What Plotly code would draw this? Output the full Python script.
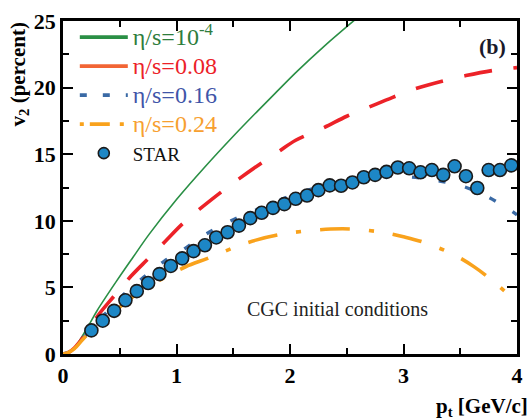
import plotly.graph_objects as go

# ---- data -------------------------------------------------------------
pt_ideal = [0.0, 0.05, 0.1, 0.16, 0.23, 0.3, 0.47, 0.62, 0.76, 1.0, 1.24, 1.5, 1.71, 1.89,
            2.06, 2.3, 2.58, 2.7]
v2_ideal = [0.0, 0.12, 0.45, 1.2, 2.2, 3.25, 5.45, 7.3, 9.0, 11.6, 13.95, 16.35, 18.2, 19.75,
            21.2, 23.1, 25.15, 26.0]

pt_008 = [0.0, 0.05, 0.1, 0.15, 0.2, 0.3, 0.45, 0.6, 0.75, 0.9, 1.05, 1.2, 1.4, 1.55, 1.75, 1.9,
          2.05, 2.3, 2.5, 2.7, 2.9, 3.1, 3.35, 3.55, 3.8, 4.0]
v2_008 = [0.0, 0.12, 0.45, 0.95, 1.5, 2.8, 4.35, 5.85, 7.15, 8.45, 9.75, 10.85, 12.2, 13.15,
          14.35, 15.2, 16.05, 17.0, 17.85, 18.55, 19.25, 19.9, 20.5, 20.9, 21.3, 21.5]

pt_016 = [0.0, 0.05, 0.1, 0.15, 0.2, 0.3, 0.37, 0.52, 0.71, 0.89, 1.08, 1.26, 1.48, 1.71, 1.92,
          2.12, 2.35, 2.6, 2.81, 3.05, 3.28, 3.52, 3.73, 3.94, 4.0]
v2_016 = [0.0, 0.12, 0.42, 0.9, 1.4, 2.4, 3.0, 4.35, 5.75, 6.95, 7.95, 9.0, 10.0, 10.85, 11.6,
          12.2, 12.75, 13.15, 13.37, 13.3, 13.05, 12.6, 11.85, 10.8, 10.45]

pt_024 = [0.0, 0.05, 0.1, 0.18, 0.28, 0.39, 0.51, 0.64, 0.8, 0.92, 1.08, 1.28, 1.51, 1.7, 1.9,
          2.1, 2.36, 2.55, 2.81, 3.01, 3.19, 3.45, 3.62, 3.77, 3.97, 4.0]
v2_024 = [0.0, 0.12, 0.4, 1.15, 1.95, 2.72, 3.6, 4.45, 5.3, 5.85, 6.55, 7.2, 8.0, 8.55, 8.95,
          9.2, 9.38, 9.38, 9.14, 8.78, 8.35, 7.43, 6.56, 5.6, 4.1, 3.8]

pt_star = [0.25, 0.35, 0.45, 0.55, 0.65, 0.75, 0.85, 0.95, 1.05, 1.15, 1.25, 1.35, 1.45, 1.55,
           1.65, 1.75, 1.85, 1.95, 2.05, 2.15, 2.25, 2.35, 2.45, 2.55, 2.65, 2.75, 2.85, 2.95,
           3.05, 3.15, 3.25, 3.35, 3.45, 3.55, 3.65, 3.75, 3.85, 3.95]
v2_star = [1.77, 2.5, 3.24, 4.03, 4.72, 5.33, 6.0, 6.61, 7.18, 7.72, 8.16, 8.75, 9.14, 9.64,
           10.2, 10.6, 10.97, 11.25, 11.65, 11.9, 12.3, 12.66, 12.63, 12.88, 13.27, 13.45, 13.67,
           14.0, 13.94, 13.64, 13.81, 13.45, 14.09, 13.35, 12.46, 13.81, 13.81, 14.16]

x_ticks = [0, 1, 2, 3, 4]
y_ticks = [0, 5, 10, 15, 20, 25]

# ---- styles -----------------------------------------------------------
GREEN, RED, BLUE, ORANGE = "#2a8f45", "#ec2228", "#3a6aa5", "#f9a21c"
STAR_FILL = "#1d87c6"
SERIF = "Liberation Serif"

fig = go.Figure()

# model curves (legend entries are added separately below)
fig.add_trace(go.Scatter(x=pt_ideal, y=v2_ideal, mode="lines", line_shape="spline",
                         line=dict(color=GREEN, width=1.6), showlegend=False))
fig.add_trace(go.Scatter(x=pt_008, y=v2_008, mode="lines", line_shape="spline",
                         line=dict(color=RED, width=3.6, dash="28px,22px"), showlegend=False))
fig.add_trace(go.Scatter(x=pt_016, y=v2_016, mode="lines", line_shape="spline",
                         line=dict(color=BLUE, width=3.4, dash="7px,20px"), showlegend=False))
fig.add_trace(go.Scatter(x=pt_024, y=v2_024, mode="lines", line_shape="spline",
                         line=dict(color=ORANGE, width=3.6, dash="30px,19px,5px,19px"),
                         showlegend=False))
fig.add_trace(go.Scatter(x=pt_star, y=v2_star, mode="markers",
                         marker=dict(size=13, color=STAR_FILL,
                                     line=dict(color="#1b1b1b", width=1.6)),
                         showlegend=False))


def legend_entry(name, line=None, marker=None, mode="lines"):
    fig.add_trace(go.Scatter(x=[None], y=[None], mode=mode, name=name,
                             line=line, marker=marker, showlegend=True))


def coloured(text, colour, size):
    style = f"color:{colour};font-family:{SERIF};font-size:{size}px"
    return f"<span style='{style}'>{text}</span>"


legend_entry(coloured("η/s=10<sup>-4</sup>", "#2e7d3c", 24), line=dict(color=GREEN, width=3.6))
legend_entry(coloured("η/s=0.08", RED, 24), line=dict(color="#f26535", width=3.6))
legend_entry(coloured("η/s=0.16", "#3f55a8", 24),
             line=dict(color=BLUE, width=3.6, dash="7px,16px"))
legend_entry(coloured("η/s=0.24", "#f7a030", 24),
             line=dict(color=ORANGE, width=3.6, dash="4px,6px,20px,10px"))
legend_entry(coloured("STAR", "#111111", 19), mode="markers",
             marker=dict(size=11, color=STAR_FILL, line=dict(color="#1b1b1b", width=1.6)))

axis_common = dict(
    showline=True, linecolor="black", linewidth=2.5, mirror="ticks",
    ticks="inside", ticklen=10, tickwidth=1.8, tickcolor="black",
    showgrid=False, zeroline=False,
    tickfont=dict(family=SERIF, size=22, color="black", weight="bold"),
)

fig.update_xaxes(range=[0, 4], tickvals=x_ticks,
                 minor=dict(dtick=0.5, ticks="inside", ticklen=6, tickwidth=1.5,
                            tickcolor="black", showgrid=False),
                 **axis_common)
fig.update_yaxes(range=[0, 25], tickvals=y_ticks,
                 minor=dict(dtick=2.5, ticks="inside", ticklen=6, tickwidth=1.5,
                            tickcolor="black", showgrid=False),
                 **axis_common)

fig.update_layout(
    width=532, height=419,
    margin=dict(l=63, r=9, t=15, b=65),
    plot_bgcolor="white", paper_bgcolor="white",
    font=dict(family=SERIF, color="black"),
    legend=dict(x=0.026, y=1.01, xanchor="left", yanchor="top",
                bgcolor="rgba(0,0,0,0)", font=dict(family=SERIF, size=20),
                tracegroupgap=0, itemwidth=48),
    annotations=[
        dict(text="<b>v<sub>2</sub> (percent)</b>", textangle=-90,
             xref="paper", yref="paper", x=-0.098, y=0.838, xanchor="center", yanchor="middle",
             showarrow=False, font=dict(family=SERIF, size=21, color="black")),
        dict(text="<b>p<sub>t</sub> [GeV/c]</b>",
             xref="paper", yref="paper", x=1.028, y=-0.115, xanchor="right", yanchor="top",
             showarrow=False, font=dict(family=SERIF, size=21, color="black")),
        dict(text="<b>(b)</b>", xref="paper", yref="paper", x=0.98, y=0.923,
             xanchor="right", yanchor="middle", showarrow=False,
             font=dict(family=SERIF, size=22, color="#1a1a2a")),
        dict(text="CGC initial conditions", xref="paper", yref="paper",
             x=0.4, y=0.136, xanchor="left", yanchor="middle", showarrow=False,
             font=dict(family=SERIF, size=20, color="#222222")),
    ],
)

fig.write_html("out.html")
